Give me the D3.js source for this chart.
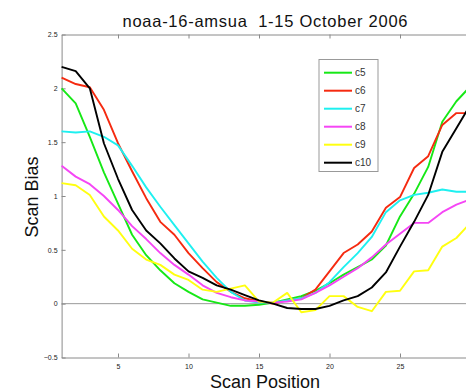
<!DOCTYPE html>
<html>
<head>
<meta charset="utf-8">
<script src="https://cdn.jsdelivr.net/npm/d3@7"></script>
<style>
  html, body { margin: 0; padding: 0; background: #fff; }
  svg { display: block; font-family: "Liberation Sans", Arial, sans-serif; }
</style>
</head>
<body>
<svg id="chart" width="466" height="392"></svg>
<script>
const positions = d3.range(1, 31);
const seriesNames = ["c5", "c6", "c7", "c8", "c9", "c10"];
const seriesColors = ["#16e816", "#f52a10", "#1ef0f0", "#f546f5", "#ffff10", "#000000"];
const c5 = [2.00,1.86,1.55,1.22,0.93,0.64,0.45,0.31,0.19,0.11,0.04,0.01,-0.02,-0.02,-0.01,0.01,0.04,0.07,0.12,0.19,0.27,0.34,0.41,0.54,0.81,1.02,1.27,1.69,1.88,2.02];
const c6 = [2.10,2.04,2.01,1.80,1.49,1.23,0.98,0.76,0.64,0.47,0.33,0.20,0.11,0.05,0.02,0.00,0.03,0.05,0.13,0.30,0.47,0.55,0.67,0.89,0.99,1.26,1.37,1.66,1.77,1.77];
const c7 = [1.60,1.59,1.60,1.55,1.47,1.28,1.08,0.90,0.73,0.56,0.39,0.24,0.11,0.03,0.01,0.01,0.03,0.05,0.10,0.20,0.34,0.47,0.62,0.85,0.96,1.01,1.03,1.06,1.04,1.04];
const c8 = [1.28,1.18,1.11,1.00,0.87,0.72,0.60,0.47,0.36,0.27,0.17,0.10,0.06,0.03,0.02,0.01,0.02,0.04,0.10,0.17,0.25,0.33,0.43,0.55,0.65,0.75,0.75,0.85,0.92,0.97];
const c9 = [1.12,1.10,1.01,0.81,0.68,0.51,0.41,0.36,0.27,0.22,0.13,0.11,0.14,0.17,0.02,0.01,0.10,-0.08,-0.06,0.07,0.07,-0.03,-0.07,0.11,0.12,0.30,0.31,0.53,0.61,0.75];
const c10 = [2.20,2.16,2.00,1.49,1.16,0.87,0.68,0.56,0.42,0.30,0.24,0.17,0.13,0.08,0.03,0.00,-0.04,-0.05,-0.05,-0.02,0.03,0.07,0.15,0.29,0.53,0.76,1.01,1.41,1.63,1.85];
const seriesValues = [c5, c6, c7, c8, c9, c10];
const xTicks = [5, 10, 15, 20, 25];
const yTicks = [-0.5, 0, 0.5, 1, 1.5, 2, 2.5];
const titleText = "noaa-16-amsua  1-15 October 2006";
const xLabel = "Scan Position";
const yLabel = "Scan Bias";

const svg = d3.select("#chart");
const x = d3.scaleLinear().domain([1, 30]).range([61.6, 470.5]);
const y = d3.scaleLinear().domain([-0.5, 2.5]).range([357.5, 34.5]);
const axisColor = "#8a8a8a";

// zero line
svg.append("line")
  .attr("x1", x(1)).attr("x2", x(30))
  .attr("y1", y(0)).attr("y2", y(0))
  .attr("stroke", "#9a9a9a").attr("stroke-width", 1);

function styleAxis(g) {
  g.select(".domain").attr("stroke", axisColor);
  g.selectAll(".tick line").attr("stroke", axisColor);
  g.selectAll(".tick text").attr("fill", "#222").style("font-size", "7px")
    .style("font-family", "'Liberation Sans', Arial, sans-serif");
}

svg.append("g").attr("transform", `translate(0,${y(-0.5)})`)
  .call(d3.axisBottom(x).tickValues(xTicks).tickSize(-4).tickSizeOuter(0).tickPadding(7).tickFormat(d3.format("d")))
  .call(styleAxis);
svg.append("g").attr("transform", `translate(0,${y(2.5)})`)
  .call(d3.axisTop(x).tickValues(xTicks).tickSize(-4).tickSizeOuter(0).tickFormat(""))
  .call(styleAxis);
svg.append("g").attr("transform", `translate(${x(1)},0)`)
  .call(d3.axisLeft(y).tickValues(yTicks).tickSize(-4).tickSizeOuter(0).tickPadding(4).tickFormat(d => d3.format("")(d)))
  .call(styleAxis);
svg.append("g").attr("transform", `translate(${x(30)},0)`)
  .call(d3.axisRight(y).tickValues(yTicks).tickSize(-4).tickSizeOuter(0).tickFormat(""))
  .call(styleAxis);

// lines
const line = d3.line().x((d, i) => x(positions[i])).y(d => y(d));
seriesValues.forEach((vals, k) => {
  svg.append("path").datum(vals)
    .attr("d", line)
    .attr("fill", "none")
    .attr("stroke", seriesColors[k])
    .attr("stroke-width", 1.9)
    .attr("stroke-linejoin", "round");
});

// title & labels
svg.append("text").attr("x", 265).attr("y", 26.7).attr("text-anchor", "middle")
  .attr("xml:space", "preserve").style("white-space", "pre")
  .attr("textLength", 285).attr("lengthAdjust", "spacing")
  .style("font-size", "16.5px").attr("fill", "#111").text(titleText);
svg.append("text").attr("x", 265).attr("y", 388).attr("text-anchor", "middle")
  .style("font-size", "18px").attr("fill", "#111").text(xLabel);
svg.append("text").attr("transform", "translate(38,197) rotate(-90)").attr("text-anchor", "middle")
  .style("font-size", "18px").attr("fill", "#111").text(yLabel);

// legend
const lg = svg.append("g");
lg.append("rect").attr("x", 319).attr("y", 59.5).attr("width", 59).attr("height", 112)
  .attr("fill", "#fff").attr("stroke", "#999").attr("stroke-width", 1);
seriesNames.forEach((name, k) => {
  const yy = 72.7 + k * 18;
  lg.append("line").attr("x1", 324).attr("x2", 352).attr("y1", yy).attr("y2", yy)
    .attr("stroke", seriesColors[k]).attr("stroke-width", 2);
  lg.append("text").attr("x", 355).attr("y", yy).attr("dy", "0.35em")
    .style("font-size", "10px").attr("fill", "#333").text(name);
});
</script>
</body>
</html>
